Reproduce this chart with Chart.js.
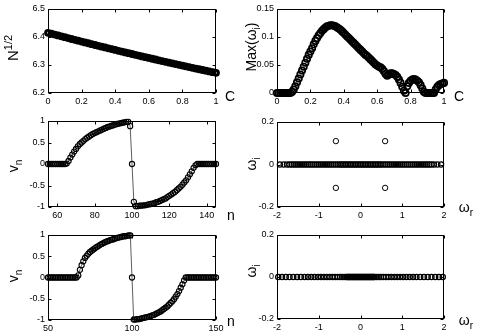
<!DOCTYPE html>
<html>
<head>
<meta charset="utf-8">
<script src="https://cdn.jsdelivr.net/npm/chart.js@4.4.0/dist/chart.umd.min.js"></script>
<style>
    html, body { margin: 0; padding: 0; background: #fff; }
    #wrap { position: relative; width: 477px; height: 334px; overflow: hidden; background: #fff; }
    #wrap canvas { position: absolute; }
</style>
</head>
<body>
<div id="wrap"></div>
<script>
// top left: N^(1/2) against coupling C
const cGrid = [0, 0.02, 0.04, 0.06, 0.08, 0.1, 0.12, 0.14, 0.16, 0.18, 0.2, 0.22, 0.24, 0.26, 0.28, 0.3, 0.32, 0.34, 0.36, 0.38, 0.4,
    0.42, 0.44, 0.46, 0.48, 0.5, 0.52, 0.54, 0.56, 0.58, 0.6, 0.62, 0.64, 0.66, 0.68, 0.7, 0.72, 0.74, 0.76, 0.78, 0.8,
    0.82, 0.84, 0.86, 0.88, 0.9, 0.92, 0.94, 0.96, 0.98, 1];
const sqrtN = [6.415, 6.4118, 6.4086, 6.4055, 6.4023, 6.3992, 6.396, 6.3929, 6.3898, 6.3868, 6.3837, 6.3806, 6.3776, 6.3745, 6.3715,
    6.3685, 6.3655, 6.3626, 6.3596, 6.3567, 6.3537, 6.3508, 6.3479, 6.345, 6.3421, 6.3393, 6.3364, 6.3336, 6.3307, 6.3279,
    6.3251, 6.3223, 6.3196, 6.3168, 6.3141, 6.3113, 6.3086, 6.3059, 6.3032, 6.3005, 6.2979, 6.2952, 6.2926, 6.29, 6.2874,
    6.2848, 6.2822, 6.2796, 6.2771, 6.2745, 6.272];

// top right: largest imaginary part of the spectrum against C
const cFine = [0, 0.01, 0.02, 0.03, 0.04, 0.05, 0.06, 0.07, 0.08, 0.09, 0.1, 0.11, 0.12, 0.13, 0.14, 0.15, 0.16, 0.17, 0.18, 0.19,
    0.2, 0.21, 0.22, 0.23, 0.24, 0.25, 0.26, 0.27, 0.28, 0.29, 0.3, 0.31, 0.32, 0.33, 0.34, 0.35, 0.36, 0.37, 0.38, 0.39,
    0.4, 0.41, 0.42, 0.43, 0.44, 0.45, 0.46, 0.47, 0.48, 0.49, 0.5, 0.51, 0.52, 0.53, 0.54, 0.55, 0.56, 0.57, 0.58, 0.59,
    0.6, 0.61, 0.62, 0.63, 0.64, 0.65, 0.66, 0.67, 0.68, 0.69, 0.7, 0.71, 0.72, 0.73, 0.74, 0.75, 0.76, 0.77, 0.78, 0.79,
    0.8, 0.81, 0.82, 0.83, 0.84, 0.85, 0.86, 0.87, 0.88, 0.89, 0.9, 0.91, 0.92, 0.93, 0.94, 0.95, 0.96, 0.97, 0.98, 0.99, 1];
const maxOmegaI = [0, 0, 0, 0, 0, 0, 0, 0, 0, 0.002, 0.006, 0.012, 0.019, 0.026, 0.033, 0.04, 0.047, 0.054, 0.061, 0.068,
    0.074, 0.08, 0.087, 0.093, 0.098, 0.103, 0.107, 0.111, 0.114, 0.117, 0.119, 0.12, 0.121, 0.121, 0.12, 0.119, 0.117, 0.115, 0.113, 0.11,
    0.107, 0.104, 0.101, 0.098, 0.095, 0.092, 0.089, 0.086, 0.083, 0.08, 0.077, 0.074, 0.071, 0.068, 0.066, 0.063, 0.06, 0.057, 0.054, 0.051,
    0.049, 0.047, 0.046, 0.043, 0.039, 0.034, 0.031, 0.033, 0.035, 0.035, 0.034, 0.032, 0.029, 0.024, 0.018, 0.011, 0.004, 0, 0.012, 0.018,
    0.022, 0.024, 0.025, 0.024, 0.022, 0.019, 0.014, 0.008, 0.002, 0, 0, 0, 0, 0, 0, 0.006, 0.011, 0.014, 0.016, 0.017, 0.018];

// middle row: profile v_n and its spectrum
const nSitesA = [55, 56, 57, 58, 59, 60, 61, 62, 63, 64, 65, 66, 67, 68, 69, 70, 71, 72, 73, 74, 75, 76, 77, 78, 79, 80,
    81, 82, 83, 84, 85, 86, 87, 88, 89, 90, 91, 92, 93, 94, 95, 96, 97, 98, 99, 100, 101, 102, 103, 104, 105, 106, 107, 108,
    109, 110, 111, 112, 113, 114, 115, 116, 117, 118, 119, 120, 121, 122, 123, 124, 125, 126, 127, 128, 129, 130, 131, 132,
    133, 134, 135, 136, 137, 138, 139, 140, 141, 142, 143, 144, 145];
const vA = [0, 0, 0, 0, 0, 0, 0, 0, 0, 0,
    0.01, 0.07, 0.15, 0.22, 0.29, 0.35, 0.41, 0.46, 0.5, 0.54, 0.58, 0.61, 0.64, 0.67, 0.7, 0.72, 0.74, 0.76, 0.78, 0.8,
    0.82, 0.84, 0.86, 0.87, 0.89, 0.9, 0.92, 0.93, 0.94, 0.95, 0.96, 0.97, 0.98, 0.98, 0.88,
    0,
    -0.88, -0.98, -0.98, -0.97, -0.97, -0.96, -0.96, -0.95, -0.94, -0.93, -0.92, -0.91, -0.89, -0.88, -0.86, -0.84, -0.82,
    -0.8, -0.77, -0.74, -0.71, -0.68, -0.65, -0.61, -0.57, -0.53, -0.48, -0.43, -0.38, -0.31, -0.24, -0.17, -0.09, -0.03,
    0, 0, 0, 0, 0, 0, 0, 0, 0, 0, 0];
const omegaReA = [-1.93, -1.84, -1.76, -1.7, -1.65, -1.6, -1.55, -1.5, -1.45, -1.4, -1.35, -1.3, -1.25, -1.2, -1.15, -1.1,
    -1.05, -1, -0.95, -0.9, -0.85, -0.8, -0.75, -0.7, -0.65, -0.6, -0.55, -0.5, -0.46, -0.42, -0.38, -0.34, -0.3, -0.26,
    -0.22, -0.18, -0.14, -0.1, -0.06, -0.02, 0.02, 0.06, 0.1, 0.14, 0.18, 0.22, 0.26, 0.3, 0.34, 0.38, 0.42, 0.46, 0.5,
    0.55, 0.6, 0.65, 0.7, 0.75, 0.8, 0.85, 0.9, 0.95, 1, 1.05, 1.1, 1.15, 1.2, 1.25, 1.3, 1.35, 1.4, 1.45, 1.5, 1.55,
    1.6, 1.65, 1.7, 1.76, 1.84, 1.93];
const unstableRe = [-0.59, -0.59, 0.59, 0.59];
const unstableIm = [0.11, -0.11, 0.11, -0.11];

// bottom row
const nSitesB = [50, 51, 52, 53, 54, 55, 56, 57, 58, 59, 60, 61, 62, 63, 64, 65, 66, 67, 68, 69, 70, 71, 72, 73, 74, 75,
    76, 77, 78, 79, 80, 81, 82, 83, 84, 85, 86, 87, 88, 89, 90, 91, 92, 93, 94, 95, 96, 97, 98, 99, 100, 101, 102, 103,
    104, 105, 106, 107, 108, 109, 110, 111, 112, 113, 114, 115, 116, 117, 118, 119, 120, 121, 122, 123, 124, 125, 126,
    127, 128, 129, 130, 131, 132, 133, 134, 135, 136, 137, 138, 139, 140, 141, 142, 143, 144, 145, 146, 147, 148, 149, 150];
const vB = [0, 0, 0, 0, 0, 0, 0, 0, 0, 0, 0, 0, 0, 0, 0, 0, 0, 0,
    0.05, 0.18, 0.29, 0.38, 0.46, 0.51, 0.56, 0.6, 0.63, 0.66, 0.69, 0.72, 0.74, 0.77, 0.79, 0.81, 0.83, 0.85, 0.86, 0.88,
    0.89, 0.9, 0.92, 0.93, 0.94, 0.95, 0.96, 0.97, 0.97, 0.98, 0.99, 0.99,
    0,
    -0.99, -0.99, -0.98, -0.98, -0.97, -0.96, -0.95, -0.94, -0.93, -0.92, -0.91, -0.89, -0.88, -0.86, -0.84, -0.82, -0.8,
    -0.77, -0.74, -0.71, -0.68, -0.64, -0.6, -0.56, -0.51, -0.45, -0.39, -0.32, -0.24, -0.16, -0.07,
    0, 0, 0, 0, 0, 0, 0, 0, 0, 0, 0, 0, 0, 0, 0, 0, 0, 0, 0];
const omegaReB = [-1.97, -1.88, -1.79, -1.7, -1.61, -1.52, -1.43, -1.34, -1.26, -1.18, -1.1, -1.02, -0.95, -0.88, -0.81,
    -0.74, -0.67, -0.61, -0.55, -0.49, -0.44, -0.39, -0.34, -0.32, -0.3, -0.28, -0.26, -0.24, -0.22, -0.2, -0.18, -0.16,
    -0.14, -0.12, -0.1, -0.08, -0.06, -0.04, -0.02, 0, 0.02, 0.04, 0.06, 0.08, 0.1, 0.12, 0.14, 0.16, 0.18, 0.2, 0.22,
    0.24, 0.26, 0.28, 0.3, 0.32, 0.34, 0.39, 0.44, 0.49, 0.55, 0.61, 0.67, 0.74, 0.81, 0.88, 0.95, 1.02, 1.1, 1.18, 1.26,
    1.34, 1.43, 1.52, 1.61, 1.7, 1.79, 1.88, 1.97];

// tick labels
const cTicks = [0, 0.2, 0.4, 0.6, 0.8, 1];
const sqrtNTicks = [6.2, 6.3, 6.4, 6.5];
const maxOmegaTicks = [0, 0.05, 0.1, 0.15];
const vTicks = [-1, -0.5, 0, 0.5, 1];
const nTicksA = [60, 80, 100, 120, 140];
const nTicksB = [50, 100, 150];
const omegaReTicks = [-2, -1, 0, 1, 2];
const omegaImTicks = [-0.2, 0, 0.2];

const FONT = "'Liberation Sans', Arial, Helvetica, sans-serif";
const pts = (xs, ys) => xs.map((x, i) => ({ x, y: ys[i] }));
const onAxis = xs => xs.map(x => ({ x, y: 0 }));

// box + inward ticks, matlab style
const framePlugin = {
    id: 'frame',
    afterDraw(chart) {
        const { ctx, chartArea: a, scales: { x, y } } = chart;
        const L = Math.round(a.left) + 0.5, R = Math.round(a.right) - 0.5;
        const T = Math.round(a.top) + 0.5, B = Math.round(a.bottom) - 0.5;
        ctx.save();
        ctx.strokeStyle = '#000';
        ctx.lineWidth = 1;
        ctx.strokeRect(L, T, R - L, B - T);
        ctx.beginPath();
        x.ticks.forEach(t => {
            const px = Math.round(x.getPixelForValue(t.value)) + 0.5;
            ctx.moveTo(px, B); ctx.lineTo(px, B - 3);
            ctx.moveTo(px, T); ctx.lineTo(px, T + 3);
        });
        y.ticks.forEach(t => {
            const py = Math.round(y.getPixelForValue(t.value)) + 0.5;
            ctx.moveTo(L, py); ctx.lineTo(L + 3, py);
            ctx.moveTo(R, py); ctx.lineTo(R - 3, py);
        });
        ctx.stroke();
        ctx.restore();
    }
};

// axis names with sub/superscripts, placed like the original figure
const axisTextPlugin = {
    id: 'axisText',
    afterDraw(chart, args, opts) {
        const ctx = chart.ctx;
        (opts.items || []).forEach(it => {
            ctx.save();
            ctx.fillStyle = '#000';
            ctx.textBaseline = 'alphabetic';
            let total = 0;
            it.segs.forEach(s => { ctx.font = s[1] + 'px ' + FONT; total += ctx.measureText(s[0]).width; });
            ctx.translate(it.x - opts.ox, it.y - opts.oy);
            if (it.rot) ctx.rotate(-Math.PI / 2);
            let cx = -total / 2;
            it.segs.forEach(s => {
                ctx.font = s[1] + 'px ' + FONT;
                ctx.fillText(s[0], cx, s[2] || 0);
                cx += ctx.measureText(s[0]).width;
            });
            ctx.restore();
        });
    }
};

// size = room kept for the tick labels (width of y axis, height of x axis)
function axisOpts(min, max, tickList, isX, size) {
    return {
        type: 'linear',
        min: min,
        max: max,
        afterFit: s => { if (isX) s.height = size; else s.width = size; },
        afterBuildTicks: s => { s.ticks = tickList.map(v => ({ value: v })); },
        grid: { display: false, drawTicks: false },
        border: { display: false },
        ticks: {
            padding: 3,
            autoSkip: false,
            maxRotation: 0,
            color: '#000',
            font: { family: FONT, size: 9 },
            callback: v => String(v)
        }
    };
}

function circles(data, r, extra) {
    return Object.assign({
        data: data,
        pointStyle: 'circle',
        pointRadius: r,
        pointBorderWidth: 1,
        pointBorderColor: '#000',
        pointBackgroundColor: 'rgba(0,0,0,0)',
        borderColor: '#333',
        borderWidth: 0.8,
        showLine: false,
        clip: false
    }, extra || {});
}

// cell = [left, top, width, height] on the page, box = plot frame [l, t, r, b] on the page
function makePlot(cell, box, xAxis, yAxis, datasets, labels) {
    const cv = document.createElement('canvas');
    cv.width = cell[2];
    cv.height = cell[3];
    cv.style.left = cell[0] + 'px';
    cv.style.top = cell[1] + 'px';
    cv.style.width = cell[2] + 'px';
    cv.style.height = cell[3] + 'px';
    document.getElementById('wrap').appendChild(cv);
    return new Chart(cv, {
        type: 'scatter',
        data: { datasets: datasets },
        options: {
            responsive: false,
            animation: false,
            devicePixelRatio: 1,
            layout: { padding: { left: 0, bottom: 0, top: box[1] - cell[1], right: cell[0] + cell[2] - box[2] } },
            plugins: {
                legend: { display: false },
                tooltip: { enabled: false },
                axisText: { items: labels, ox: cell[0], oy: cell[1] }
            },
            scales: { x: xAxis, y: yAxis }
        },
        plugins: [framePlugin, axisTextPlugin]
    });
}

// row 1
makePlot([0, 0, 238, 110], [48, 9, 216, 93],
    axisOpts(0, 1, cTicks, true, 17), axisOpts(6.2, 6.5, sqrtNTicks, false, 48),
    [circles(pts(cGrid, sqrtN), 2.5, { pointBorderWidth: 2.8 })],
    [{ rot: true, x: 18, y: 48, segs: [['N', 15], ['1/2', 11, -6]] },
     { x: 230, y: 101, segs: [['C', 14]] }]);

makePlot([238, 0, 239, 110], [277, 9, 444, 93],
    axisOpts(0, 1, cTicks, true, 17), axisOpts(0, 0.15, maxOmegaTicks, false, 39),
    [circles(pts(cFine, maxOmegaI), 3.2, { pointBorderWidth: 1.7 })],
    [{ rot: true, x: 256, y: 47, segs: [['Max(ω', 14], ['i', 10, 4], [')', 14]] },
     { x: 459, y: 101, segs: [['C', 14]] }]);

// row 2
makePlot([0, 110, 238, 112], [48, 121, 216, 207],
    axisOpts(55, 145, nTicksA, true, 15), axisOpts(-1, 1, vTicks, false, 48),
    [circles(pts(nSitesA, vA), 2.6, { showLine: true, pointBorderWidth: 1.1 })],
    [{ rot: true, x: 18, y: 166, segs: [['v', 14], ['n', 10, 4]] },
     { x: 231, y: 220, segs: [['n', 14]] }]);

makePlot([238, 110, 239, 112], [277, 122, 444, 207],
    axisOpts(-2, 2, omegaReTicks, true, 15), axisOpts(-0.2, 0.2, omegaImTicks, false, 39),
    [circles(onAxis(omegaReA), 2.6, { pointBorderWidth: 1.2 }), circles(pts(unstableRe, unstableIm), 2.7)],
    [{ rot: true, x: 256, y: 164, segs: [['ω', 14], ['i', 10, 4]] },
     { x: 466, y: 212, segs: [['ω', 14], ['r', 10, 4]] }]);

// row 3
makePlot([0, 222, 238, 112], [48, 235, 216, 320],
    axisOpts(50, 150, nTicksB, true, 14), axisOpts(-1, 1, vTicks, false, 48),
    [circles(pts(nSitesB, vB), 2.6, { showLine: true, pointBorderWidth: 1.1 })],
    [{ rot: true, x: 18, y: 276, segs: [['v', 14], ['n', 10, 4]] },
     { x: 231, y: 326, segs: [['n', 14]] }]);

makePlot([238, 222, 239, 112], [277, 235, 444, 319],
    axisOpts(-2, 2, omegaReTicks, true, 15), axisOpts(-0.2, 0.2, omegaImTicks, false, 39),
    [circles(onAxis(omegaReB), 2.6, { pointBorderWidth: 1.3 })],
    [{ rot: true, x: 256, y: 271, segs: [['ω', 14], ['i', 10, 4]] },
     { x: 466, y: 325, segs: [['ω', 14], ['r', 10, 4]] }]);
</script>
</body>
</html>
